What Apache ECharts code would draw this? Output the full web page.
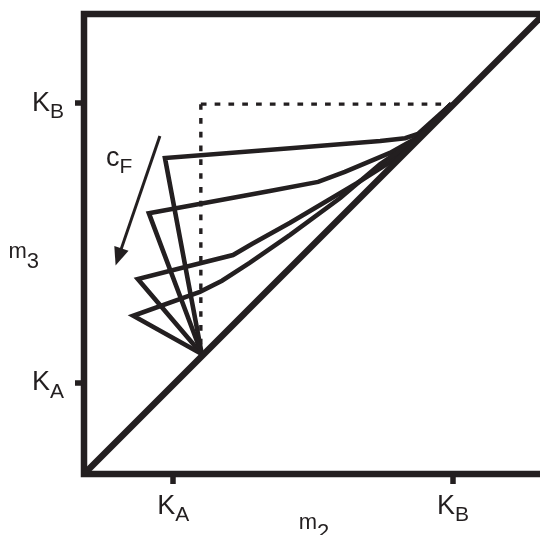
<!DOCTYPE html>
<html><head><meta charset="utf-8">
<script src="https://cdn.jsdelivr.net/npm/echarts@6/dist/echarts.min.js"></script>
<style>html,body{margin:0;padding:0;background:#fff}#c{width:540px;height:535px}</style>
</head><body><div id="c"></div>
<script>
// ---- data (arbitrary units, 0..100 on both axes) ----
const xTickValues = [19.4, 80.2];
const xTickLabels = ['{k|K}{s|A}', '{k|K}{s|B}'];
const yTickValues = [19.8, 80.6];
const yTickLabels = ['{k|K}{s|A}', '{k|K}{s|B}'];
const xName = '{m|m}{s|2}';
const yName = '{m|m}{s|3}';
const diagonal = [[0, 0], [100, 100]];
const dashedVertical = [[25.4, 80.4], [25.4, 25.4]];
const dashedHorizontal = [[25.4, 80.4], [80.4, 80.4]];
const curve1 = [[25.6, 26.1], [17.6, 68.7], [44.8, 70.8], [64.4, 72.4], [69.8, 73.0], [72.6, 73.9], [79.8, 80.4]];
const curve2 = [[25.6, 26.1], [14.1, 56.7], [40.4, 61.5], [50.9, 63.5], [56.7, 65.7], [66.5, 69.8], [72.4, 73.1], [79.8, 80.4]];
const curve3 = [[25.6, 26.1], [11.7, 42.4], [22.0, 45.0], [32.4, 47.6], [36.5, 50.0], [44.8, 54.6], [59.3, 63.2], [66.5, 67.8], [72.4, 72.9], [79.8, 80.4]];
const curve4 = [[25.6, 26.1], [10.7, 34.4], [25.2, 39.6], [30.0, 42.0], [36.0, 45.9], [44.8, 52.0], [55.7, 60.0], [64.4, 67.4], [72.4, 72.8], [79.8, 80.4]];
const arrowFrom = [16.5, 73.5];
const arrowTo = [7.5, 47.2];
const cfLabelAt = [7.65, 68.6];
const cfLabel = '{c|c}{s|F}';

const INK = '#231f20';
const FONT = '"Liberation Sans", Arial, Helvetica, sans-serif';
const labelRich = {
  k: { fontSize: 27, lineHeight: 27, verticalAlign: 'top', color: INK, fontFamily: FONT },
  s: { fontSize: 21, lineHeight: 21, padding: [12, 0, 0, 0], verticalAlign: 'top', color: INK, fontFamily: FONT }
};
const nameRich = {
  m: { fontSize: 22, lineHeight: 22, verticalAlign: 'top', color: INK, fontFamily: FONT },
  s: { fontSize: 22, lineHeight: 22, padding: [10, 0, 0, 0], verticalAlign: 'top', color: INK, fontFamily: FONT }
};
const cRich = {
  c: { fontSize: 27, lineHeight: 27, verticalAlign: 'top', color: INK, fontFamily: FONT },
  s: { fontSize: 21, lineHeight: 21, padding: [12, 0, 0, 0], verticalAlign: 'top', color: INK, fontFamily: FONT }
};

function curveSeries(data) {
  return {
    type: 'line', data: data, showSymbol: false, symbol: 'none', silent: true,
    lineStyle: { color: INK, width: 4.6, join: 'miter', miterLimit: 10 }, z: 3
  };
}

const chart = echarts.init(document.getElementById('c'), null, { renderer: 'canvas' });
chart.setOption({
  animation: false,
  backgroundColor: '#ffffff',
  grid: { left: 84, top: 14, width: 460, height: 460, outerBoundsMode: 'none', containLabel: false,
    show: true, borderWidth: 6.5, borderColor: INK, backgroundColor: 'transparent' },
  xAxis: {
    type: 'value', min: 0, max: 100,
    axisLine: { show: false },
    splitLine: { show: false },
    axisTick: { show: true, customValues: xTickValues, length: 10, lineStyle: { color: INK, width: 5.5 } },
    axisLabel: { show: true, customValues: xTickValues, margin: 19,
      formatter: v => xTickLabels[xTickValues.indexOf(v)], rich: labelRich },
    name: xName, nameLocation: 'middle', nameGap: 38, nameMoveOverlap: false,
    nameTextStyle: { rich: nameRich }
  },
  yAxis: {
    type: 'value', min: 0, max: 100,
    axisLine: { show: false },
    splitLine: { show: false },
    axisTick: { show: true, customValues: yTickValues, length: 9, lineStyle: { color: INK, width: 5.5 } },
    axisLabel: { show: true, customValues: yTickValues, margin: 20,
      formatter: v => yTickLabels[yTickValues.indexOf(v)], rich: labelRich },
    name: yName, nameLocation: 'middle', nameGap: 45, nameRotate: 0, nameMoveOverlap: false,
    nameTextStyle: { rich: nameRich, padding: [15, 0, 0, 0] }
  },
  series: [
    { type: 'line', data: diagonal, showSymbol: false, symbol: 'none', silent: true,
      lineStyle: { color: INK, width: 6.5 }, z: 4 },
    { type: 'line', data: dashedVertical, showSymbol: false, symbol: 'none', silent: true,
      lineStyle: { color: INK, width: 3.4, type: [5.7, 8.1], cap: 'butt' }, z: 2 },
    { type: 'line', data: dashedHorizontal, showSymbol: false, symbol: 'none', silent: true,
      lineStyle: { color: INK, width: 3.4, type: [5.7, 8.1], cap: 'butt' }, z: 2 },
    curveSeries(curve1),
    curveSeries(curve2),
    curveSeries(curve3),
    curveSeries(curve4),
    { type: 'scatter', data: [cfLabelAt], symbolSize: 0, silent: true,
      itemStyle: { opacity: 1, color: INK },
      label: { show: true, position: 'inside', color: INK, opacity: 1, formatter: () => cfLabel, rich: cRich },
      markLine: {
        silent: true, symbol: ['none', 'triangle'], symbolSize: [15, 18],
        label: { show: false },
        lineStyle: { color: INK, width: 3, type: 'solid', opacity: 1 },
        data: [[{ coord: arrowFrom }, { coord: arrowTo }]]
      }
    }
  ]
});
</script>
</body></html>
